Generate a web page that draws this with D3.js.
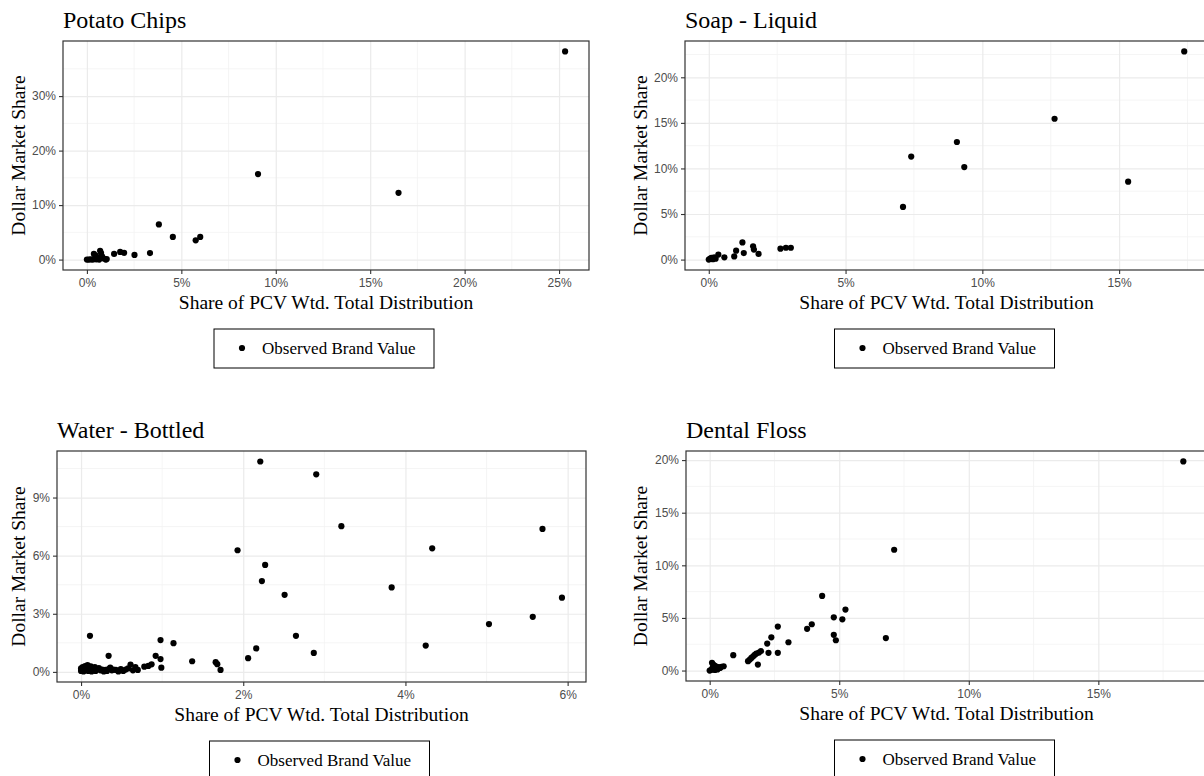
<!DOCTYPE html>
<html lang="en">
<head>
  <meta charset="UTF-8">
  <title>Brand value vs distribution</title>
  <script src="https://d3js.org/d3.v7.min.js"></script>
  <style>
    body { margin: 0; padding: 0; background: #fff; overflow: hidden; }
    svg { display: block; }
  </style>
</head>
<body>
  <svg width="1204" height="776"></svg>

  <script>
    // data: [share of PCV wtd. distribution %, dollar market share %]
    const potatoPoints = [
      [0.0, 0.0], [0.1, 0.0], [0.2, 0.05], [0.3, 0.0], [0.4, 0.1], [0.45, 0.8], [0.5, 0.05],
      [0.6, 0.3], [0.65, 0.0], [0.7, 1.6], [0.75, 1.2], [0.8, 0.6], [0.9, 0.2], [1.0, 0.0],
      [1.05, 0.1], [0.37, 1.05], [0.55, 0.4], [1.44, 1.04], [1.76, 1.4], [1.97, 1.25],
      [2.52, 0.85], [3.34, 1.2], [3.81, 6.45], [4.55, 4.15], [5.76, 3.53], [6.0, 4.15],
      [9.06, 15.7], [16.5, 12.25], [25.32, 38.2]
    ];
    const soapPoints = [
      [0.0, 0.0], [0.05, 0.1], [0.1, 0.2], [0.15, 0.05], [0.2, 0.25], [0.25, 0.1], [0.35, 0.55],
      [0.57, 0.25], [0.93, 0.35], [1.0, 0.98], [1.23, 1.88], [1.28, 0.72], [1.62, 1.45],
      [1.65, 1.1], [1.82, 0.62], [2.62, 1.2], [2.82, 1.3], [3.0, 1.3], [7.1, 5.78],
      [7.4, 11.3], [9.07, 12.9], [9.34, 10.15], [12.64, 15.45], [15.33, 8.55], [17.38, 22.84]
    ];
    const waterPoints = [
      [0.00, 0.05], [0.00, 0.18], [0.01, 0.10], [0.02, 0.25], [0.03, 0.02], [0.04, 0.15],
      [0.05, 0.30], [0.06, 0.08], [0.07, 0.20], [0.08, 0.35], [0.09, 0.05], [0.10, 0.22],
      [0.11, 0.12], [0.12, 0.28], [0.13, 0.02], [0.14, 0.18], [0.15, 0.10], [0.17, 0.25],
      [0.18, 0.05], [0.20, 0.15], [0.22, 0.20], [0.24, 0.08], [0.26, 0.12], [0.28, 0.02],
      [0.30, 0.10], [0.32, 0.05], [0.34, 0.15], [0.36, 0.22], [0.38, 0.08], [0.40, 0.12],
      [0.43, 0.10], [0.46, 0.02], [0.49, 0.14], [0.52, 0.05], [0.55, 0.12], [0.58, 0.18],
      [0.61, 0.38], [0.64, 0.08], [0.67, 0.25], [0.70, 0.10],
      [0.11, 1.86], [0.34, 0.83], [0.78, 0.27], [0.83, 0.31], [0.87, 0.39], [0.92, 0.83],
      [0.98, 1.64], [0.98, 0.66], [0.99, 0.22], [1.14, 1.48], [1.37, 0.55], [1.66, 0.5],
      [1.68, 0.4], [1.72, 0.1], [1.93, 6.28], [2.06, 0.71], [2.16, 1.21], [2.21, 10.86],
      [2.23, 4.69], [2.27, 5.52], [2.51, 3.98], [2.65, 1.86], [2.87, 0.98], [2.9, 10.2],
      [3.21, 7.52], [3.83, 4.36], [4.25, 1.36], [4.33, 6.38], [5.03, 2.47], [5.57, 2.84],
      [5.69, 7.38], [5.93, 3.83]
    ];
    const flossPoints = [
      [0.0, 0.0], [0.05, 0.05], [0.1, 0.15], [0.12, 0.3], [0.09, 0.73], [0.15, 0.55],
      [0.2, 0.45], [0.25, 0.2], [0.3, 0.1], [0.35, 0.3], [0.4, 0.25], [0.45, 0.35],
      [0.54, 0.41], [0.2, 0.05], [0.28, 0.35], [0.91, 1.46], [1.48, 0.89], [1.55, 1.04],
      [1.61, 1.2], [1.68, 1.36], [1.74, 1.49], [1.8, 1.61], [1.9, 1.71], [1.86, 0.57],
      [1.98, 1.84], [2.22, 2.56], [2.27, 1.68], [2.38, 3.16], [2.63, 4.18], [2.63, 1.68],
      [3.04, 2.69], [3.76, 3.96], [3.94, 4.4], [4.34, 7.09], [4.79, 5.06], [4.79, 3.39],
      [4.87, 2.88], [5.12, 4.87], [5.24, 5.79], [6.8, 3.09], [7.12, 11.48], [18.28, 19.87]
    ];

    const potatoXTicks = [0, 5, 10, 15, 20, 25];
    const potatoYTicks = [0, 10, 20, 30];
    const soapXTicks = [0, 5, 10, 15];
    const soapYTicks = [0, 5, 10, 15, 20];
    const waterXTicks = [0, 2, 4, 6];
    const waterYTicks = [0, 3, 6, 9];
    const flossXTicks = [0, 5, 10, 15];
    const flossYTicks = [0, 5, 10, 15, 20];

    const panels = [
      {title: "Potato Chips", pts: potatoPoints, xt: potatoXTicks, yt: potatoYTicks,
       x0: 63, x1: 589, y0: 41, y1: 270, titleY: 28, ylabX: 25},
      {title: "Soap - Liquid", pts: soapPoints, xt: soapXTicks, yt: soapYTicks,
       x0: 685, x1: 1208, y0: 41, y1: 270, titleY: 28, ylabX: 647},
      {title: "Water - Bottled", pts: waterPoints, xt: waterXTicks, yt: waterYTicks,
       x0: 57, x1: 586, y0: 451, y1: 682, titleY: 438, ylabX: 25},
      {title: "Dental Floss", pts: flossPoints, xt: flossXTicks, yt: flossYTicks,
       x0: 686, x1: 1207, y0: 451, y1: 681, titleY: 438, ylabX: 647}
    ];

    const svg = d3.select("svg");
    const serif = "'Liberation Serif', 'Times New Roman', serif";
    const sans = "'Liberation Sans', Arial, sans-serif";

    // ggplot style: 5% padding on each side of the data range
    function padded(ext) {
      const r = ext[1] - ext[0];
      return [ext[0] - r * 0.05, ext[1] + r * 0.05];
    }

    function minorTicks(major, dom) {
      const step = major[1] - major[0];
      const out = [];
      for (let v = major[0] - step / 2; v <= dom[1]; v += step) {
        if (v >= dom[0]) out.push(v);
      }
      return out;
    }

    function drawPanel(p) {
      const g = svg.append("g");
      const x = d3.scaleLinear().domain(padded(d3.extent(p.pts, d => d[0]))).range([p.x0, p.x1]);
      const y = d3.scaleLinear().domain(padded(d3.extent(p.pts, d => d[1]))).range([p.y1, p.y0]);

      // minor grid
      g.selectAll(".minx").data(minorTicks(p.xt, x.domain())).join("line")
        .attr("x1", d => x(d)).attr("x2", d => x(d)).attr("y1", p.y0).attr("y2", p.y1)
        .attr("stroke", "#f2f2f2").attr("stroke-width", 0.8);
      g.selectAll(".miny").data(minorTicks(p.yt, y.domain())).join("line")
        .attr("y1", d => y(d)).attr("y2", d => y(d)).attr("x1", p.x0).attr("x2", p.x1)
        .attr("stroke", "#f2f2f2").attr("stroke-width", 0.8);

      // major grid
      g.append("g").attr("transform", `translate(0,${p.y1})`)
        .call(d3.axisBottom(x).tickValues(p.xt).tickSize(-(p.y1 - p.y0)).tickFormat(""))
        .call(a => a.select(".domain").remove())
        .selectAll("line").attr("stroke", "#ebebeb").attr("stroke-width", 1.2);
      g.append("g").attr("transform", `translate(${p.x0},0)`)
        .call(d3.axisLeft(y).tickValues(p.yt).tickSize(-(p.x1 - p.x0)).tickFormat(""))
        .call(a => a.select(".domain").remove())
        .selectAll("line").attr("stroke", "#ebebeb").attr("stroke-width", 1.2);

      // points
      g.selectAll("circle").data(p.pts).join("circle")
        .attr("cx", d => x(d[0])).attr("cy", d => y(d[1]))
        .attr("r", 3.1).attr("fill", "#000");

      // border
      g.append("rect")
        .attr("x", p.x0).attr("y", p.y0)
        .attr("width", p.x1 - p.x0).attr("height", p.y1 - p.y0)
        .attr("fill", "none").attr("stroke", "#333").attr("stroke-width", 1.2);

      // axes
      const xa = g.append("g").attr("transform", `translate(0,${p.y1})`)
        .call(d3.axisBottom(x).tickValues(p.xt).tickSize(4).tickPadding(4).tickFormat(d => d + "%"));
      const ya = g.append("g").attr("transform", `translate(${p.x0},0)`)
        .call(d3.axisLeft(y).tickValues(p.yt).tickSize(4).tickPadding(3).tickFormat(d => d + "%"));
      [xa, ya].forEach(a => {
        a.select(".domain").remove();
        a.selectAll("line").attr("stroke", "#333").attr("stroke-width", 1.1);
        a.selectAll("text").attr("fill", "#4d4d4d").style("font-family", sans).style("font-size", "12px");
      });

      // titles
      g.append("text").attr("x", p.x0).attr("y", p.titleY)
        .style("font-family", serif).style("font-size", "24px").attr("fill", "#000")
        .text(p.title);
      const cx = (p.x0 + p.x1) / 2;
      g.append("text").attr("x", cx).attr("y", p.y1 + 39).attr("text-anchor", "middle")
        .style("font-family", serif).style("font-size", "19.5px").attr("fill", "#000")
        .text("Share of PCV Wtd. Total Distribution");
      g.append("text")
        .attr("transform", `translate(${p.ylabX},${(p.y0 + p.y1) / 2}) rotate(-90)`)
        .attr("text-anchor", "middle")
        .style("font-family", serif).style("font-size", "19.5px").attr("fill", "#000")
        .text("Dollar Market Share");

      // legend
      const lx = cx - 112, ly = p.y1 + 59;
      g.append("rect").attr("x", lx).attr("y", ly).attr("width", 220).attr("height", 39)
        .attr("fill", "#fff").attr("stroke", "#000").attr("stroke-width", 1);
      g.append("circle").attr("cx", lx + 28).attr("cy", ly + 19).attr("r", 3.1).attr("fill", "#000");
      g.append("text").attr("x", lx + 48).attr("y", ly + 25)
        .style("font-family", serif).style("font-size", "17px").attr("fill", "#000")
        .text("Observed Brand Value");
    }

    panels.forEach(drawPanel);
  </script>
</body>
</html>
